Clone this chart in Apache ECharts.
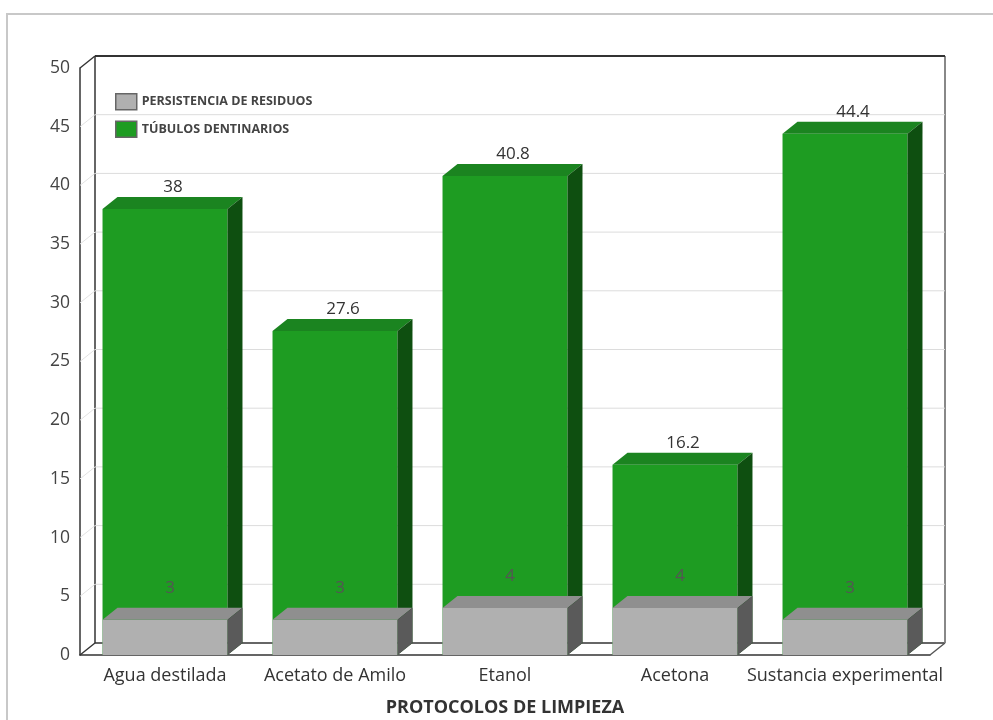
<!DOCTYPE html>
<html>
<head>
<meta charset="utf-8">
<script src="https://cdn.jsdelivr.net/npm/echarts@6/dist/echarts.min.js"></script>
<style>html,body{margin:0;padding:0;background:#fff}#c{width:993px;height:720px}</style>
</head>
<body>
<div id="c"></div>
<script>
const categories = ['Agua destilada', 'Acetato de Amilo', 'Etanol', 'Acetona', 'Sustancia experimental'];
const persistencia = [3, 3, 4, 4, 3];
const tubulos = [38, 27.6, 40.8, 16.2, 44.4];
const yTicks = [0, 5, 10, 15, 20, 25, 30, 35, 40, 45, 50];
const seriesNames = ['PERSISTENCIA DE RESIDUOS', 'TÚBULOS DENTINARIOS'];

const DX = 15, DY = -12;
const FONT = '"Open Sans", "Noto Sans", sans-serif';

function boxRenderer(front, topC, side, labelColor, ldx, ldy) {
  return function (params, api) {
    const ci = api.value(0), v = api.value(1);
    const top = api.coord([ci, v]);
    const base = api.coord([ci, 0]);
    const band = api.size([1, 0])[0];
    const w = band * 0.735;
    const x0 = top[0] - w / 2, x1 = top[0] + w / 2, yT = top[1], yB = base[1];
    return {
      type: 'group',
      children: [
        { type: 'rect', shape: { x: x0, y: yT, width: w, height: yB - yT }, style: { fill: front } },
        { type: 'polygon', shape: { points: [[x0, yT], [x0 + DX, yT + DY], [x1 + DX, yT + DY], [x1, yT]] }, style: { fill: topC } },
        { type: 'polygon', shape: { points: [[x1, yT], [x1 + DX, yT + DY], [x1 + DX, yB + DY], [x1, yB]] }, style: { fill: side } },
        { type: 'text', x: top[0] + ldx, y: yT + DY + ldy, style: { text: String(v), fill: labelColor, fontSize: 17, fontFamily: FONT, align: 'center', verticalAlign: 'middle' } }
      ]
    };
  };
}

function frameRenderer(params, api) {
  const cs = params.coordSys;
  const v = api.value(1);
  const y = api.coord([0, v])[1];
  const L = cs.x, R = cs.x + cs.width, T = cs.y, B = cs.y + cs.height;
  const children = [];
  const isEdge = (v === 0 || v === 50);
  children.push({ type: 'line', shape: { x1: L, y1: y, x2: L + DX, y2: y + DY }, style: { stroke: isEdge ? '#333' : '#e2e2e2', lineWidth: isEdge ? 1.5 : 1 } });
  children.push({ type: 'line', shape: { x1: L + DX, y1: y + DY, x2: R + DX, y2: y + DY }, style: { stroke: isEdge ? '#333' : '#dcdcdc', lineWidth: v === 50 ? 2 : (v === 0 ? 1.5 : 1) } });
  if (v === 0) {
    children.push({ type: 'line', shape: { x1: L + DX, y1: T + DY, x2: L + DX, y2: B + DY }, style: { stroke: '#333', lineWidth: 1.5 } });
    children.push({ type: 'line', shape: { x1: R + DX, y1: T + DY, x2: R + DX, y2: B + DY }, style: { stroke: '#888', lineWidth: 2 } });
    children.push({ type: 'line', shape: { x1: R, y1: B, x2: R + DX, y2: B + DY }, style: { stroke: '#555', lineWidth: 1.5 } });
  }
  return { type: 'group', children: children };
}

const chart = echarts.init(document.getElementById('c'), null, { renderer: 'canvas' });
chart.setOption({
  animation: false,
  textStyle: { fontFamily: FONT },
  graphic: [{
    type: 'rect', shape: { x: 7, y: 14, width: 1000, height: 720 },
    style: { fill: 'none', stroke: '#c8c8c8', lineWidth: 2 }, z: -10
  }],
  grid: { left: 80, right: 63, top: 68, bottom: 65, containLabel: false, outerBoundsMode: 'none' },
  legend: {
    data: seriesNames,
    orient: 'vertical', left: 110, top: 88,
    itemWidth: 21, itemHeight: 16, itemGap: 10,
    icon: 'rect',
    itemStyle: { borderColor: '#666', borderWidth: 1.5 },
    textStyle: { fontSize: 12.5, fontWeight: 'bold', color: '#444', fontFamily: FONT }
  },
  xAxis: {
    type: 'category', data: categories,
    name: 'PROTOCOLOS DE LIMPIEZA', nameLocation: 'middle', nameGap: 44,
    nameTextStyle: { fontSize: 18, fontWeight: 'bold', color: '#333', fontFamily: FONT },
    axisLine: { lineStyle: { color: '#333', width: 1.5 } },
    axisTick: { show: false },
    axisLabel: { fontSize: 18, color: '#333', margin: 12, interval: 0, fontFamily: FONT }
  },
  yAxis: {
    type: 'value', min: 0, max: 50, interval: 5,
    axisLine: { show: true, lineStyle: { color: '#333', width: 1.5 } },
    axisTick: { show: false },
    splitLine: { show: false },
    axisLabel: { fontSize: 17.5, color: '#444', margin: 10, fontFamily: FONT }
  },
  series: [
    {
      name: 'frame', type: 'custom', z: 1, silent: true,
      renderItem: frameRenderer,
      data: yTicks.map(v => [0, v]),
      encode: { x: 0, y: 1 }
    },
    {
      name: seriesNames[1], type: 'custom', z: 2,
      itemStyle: { color: '#1e9c22' },
      renderItem: boxRenderer('#1e9c22', '#1b8420', '#0e4f10', '#333', 8, -10),
      data: tubulos.map((v, i) => [i, v]),
      encode: { x: 0, y: 1 }
    },
    {
      name: seriesNames[0], type: 'custom', z: 3,
      itemStyle: { color: '#b0b0b0' },
      renderItem: boxRenderer('#b0b0b0', '#8f8f8f', '#5a5a5a', '#555', 5, -20),
      data: persistencia.map((v, i) => [i, v]),
      encode: { x: 0, y: 1 }
    }
  ]
});
</script>
</body>
</html>
